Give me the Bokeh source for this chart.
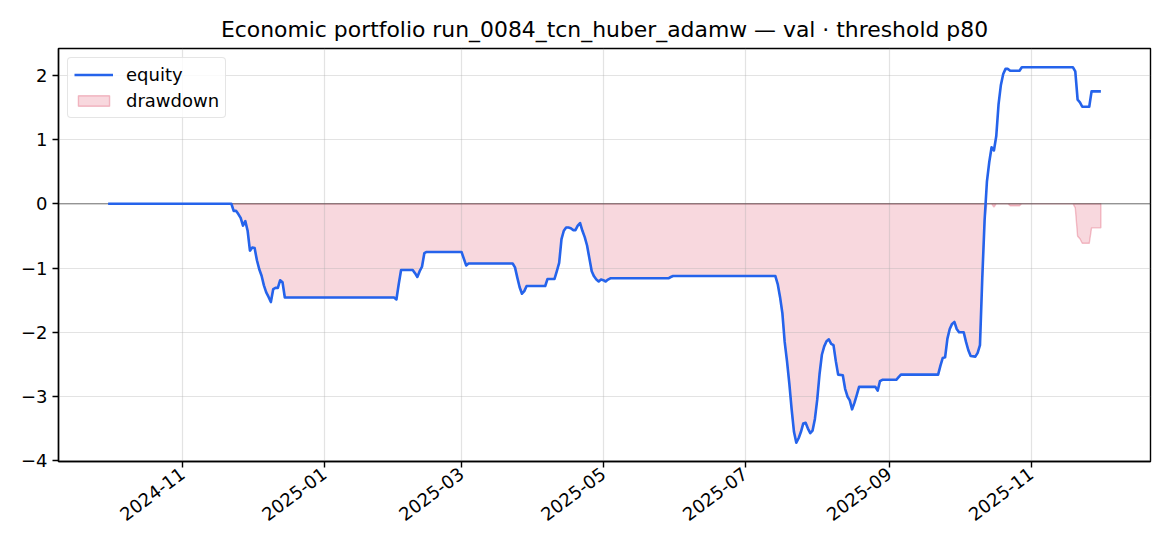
import math
import numpy as np
import pandas as pd
from bokeh.plotting import figure
from bokeh.models import (Range1d, FixedTicker, DatetimeTickFormatter, Span,
                          Legend, LegendItem)
from bokeh.embed import file_html
from bokeh.resources import INLINE

# ---------------- data ----------------
dates = [
    "2024-09-30", "2024-11-22", "2024-11-23", "2024-11-24", "2024-11-25",
    "2024-11-26", "2024-11-27", "2024-11-28", "2024-11-29", "2024-11-30",
    "2024-12-01", "2024-12-02", "2024-12-03", "2024-12-04", "2024-12-05",
    "2024-12-06", "2024-12-07", "2024-12-08", "2024-12-09", "2024-12-10",
    "2024-12-11", "2024-12-12", "2024-12-13", "2024-12-14", "2024-12-15",
    "2025-01-31", "2025-02-01", "2025-02-02", "2025-02-03", "2025-02-08",
    "2025-02-09", "2025-02-10", "2025-02-11", "2025-02-12", "2025-02-13",
    "2025-02-14", "2025-03-01", "2025-03-03", "2025-03-04", "2025-03-23",
    "2025-03-24", "2025-03-25", "2025-03-26", "2025-03-27", "2025-03-28",
    "2025-03-29", "2025-04-06", "2025-04-07", "2025-04-10", "2025-04-11",
    "2025-04-12", "2025-04-13", "2025-04-14", "2025-04-15", "2025-04-16",
    "2025-04-17", "2025-04-18", "2025-04-19", "2025-04-20", "2025-04-21",
    "2025-04-22", "2025-04-23", "2025-04-24", "2025-04-25", "2025-04-26",
    "2025-04-27", "2025-04-28", "2025-04-29", "2025-04-30", "2025-05-01",
    "2025-05-02", "2025-05-03", "2025-05-04", "2025-05-29", "2025-05-30",
    "2025-05-31", "2025-07-14", "2025-07-15", "2025-07-16", "2025-07-17",
    "2025-07-18", "2025-07-19", "2025-07-20", "2025-07-21", "2025-07-22",
    "2025-07-23", "2025-07-24", "2025-07-25", "2025-07-26", "2025-07-27",
    "2025-07-28", "2025-07-29", "2025-07-30", "2025-07-31", "2025-08-01",
    "2025-08-02", "2025-08-03", "2025-08-04", "2025-08-05", "2025-08-06",
    "2025-08-07", "2025-08-08", "2025-08-09", "2025-08-10", "2025-08-12",
    "2025-08-13", "2025-08-14", "2025-08-15", "2025-08-16", "2025-08-17",
    "2025-08-18", "2025-08-19", "2025-08-26", "2025-08-27", "2025-08-28",
    "2025-08-29", "2025-09-04", "2025-09-05", "2025-09-06", "2025-09-22",
    "2025-09-23", "2025-09-24", "2025-09-25", "2025-09-26", "2025-09-27",
    "2025-09-28", "2025-09-29", "2025-09-30", "2025-10-01", "2025-10-03",
    "2025-10-04", "2025-10-05", "2025-10-06", "2025-10-08", "2025-10-09",
    "2025-10-10", "2025-10-11", "2025-10-12", "2025-10-13", "2025-10-14",
    "2025-10-15", "2025-10-16", "2025-10-17", "2025-10-18", "2025-10-19",
    "2025-10-20", "2025-10-21", "2025-10-22", "2025-10-23", "2025-10-27",
    "2025-10-28", "2025-11-19", "2025-11-20", "2025-11-21", "2025-11-22",
    "2025-11-23", "2025-11-26", "2025-11-27", "2025-12-01",
]
equity = [
    0.00, 0.00, -0.11, -0.11, -0.16,
    -0.22, -0.34, -0.27, -0.42, -0.73,
    -0.68, -0.69, -0.88, -1.02, -1.12,
    -1.27, -1.38, -1.45, -1.53, -1.33,
    -1.31, -1.31, -1.19, -1.22, -1.46,
    -1.46, -1.49, -1.25, -1.03, -1.03,
    -1.08, -1.14, -1.05, -0.98, -0.77,
    -0.75, -0.75, -0.96, -0.93, -0.93,
    -0.99, -1.15, -1.30, -1.40, -1.36,
    -1.28, -1.28, -1.17, -1.17, -1.05,
    -0.92, -0.55, -0.42, -0.37, -0.37,
    -0.38, -0.41, -0.41, -0.34, -0.30,
    -0.42, -0.52, -0.65, -0.85, -1.05,
    -1.13, -1.18, -1.21, -1.18, -1.19,
    -1.21, -1.18, -1.16, -1.16, -1.14,
    -1.125, -1.125, -1.25, -1.45, -1.70,
    -2.15, -2.45, -2.80, -3.20, -3.55,
    -3.72, -3.65, -3.55, -3.42, -3.41,
    -3.50, -3.57, -3.53, -3.35, -3.05,
    -2.65, -2.35, -2.22, -2.14, -2.11,
    -2.18, -2.20, -2.45, -2.66, -2.67,
    -2.88, -3.00, -3.06, -3.20, -3.10,
    -2.98, -2.85, -2.85, -2.91, -2.76,
    -2.74, -2.74, -2.70, -2.66, -2.66,
    -2.52, -2.40, -2.39, -2.10, -1.95,
    -1.87, -1.84, -1.95, -2.00, -2.00,
    -2.15, -2.28, -2.37, -2.38, -2.32,
    -2.20, -1.15, -0.25, 0.35, 0.65,
    0.88, 0.83, 1.05, 1.55, 1.85,
    2.02, 2.10, 2.10, 2.07, 2.07,
    2.125, 2.125, 2.06, 1.62, 1.58,
    1.51, 1.51, 1.75, 1.75,
]
x_tick_dates = ["2024-11-01", "2025-01-01", "2025-03-01", "2025-05-01",
                "2025-07-01", "2025-09-01", "2025-11-01"]
y_ticks = [-4, -3, -2, -1, 0, 1, 2]
y_tick_labels = ["\u22124", "\u22123", "\u22122", "\u22121", "0", "1", "2"]
title_text = "Economic portfolio run_0084_tcn_huber_adamw \u2014 val \u00b7 threshold p80"

# ---------------- derived ----------------
x = pd.to_datetime(dates)
eq = np.array(equity, dtype=float)
dd = eq - np.maximum.accumulate(eq)

xmin, xmax = x.min(), x.max()
xspan = xmax - xmin
ymin = min(eq.min(), dd.min())
ymax = max(eq.max(), 0.0)
yspan = ymax - ymin

FONT = "DejaVu Sans"
p = figure(width=1154, height=534, x_axis_type="datetime",
           output_backend="svg", toolbar_location=None,
           title=title_text,
           x_range=Range1d(xmin - 0.05 * xspan, xmax + 0.05 * xspan),
           y_range=Range1d(ymin - 0.05 * yspan, ymax + 0.05 * yspan),
           min_border_left=58, min_border_right=4,
           min_border_top=48, min_border_bottom=73)

p.background_fill_color = "white"
p.border_fill_color = "white"
p.outline_line_color = "black"
p.outline_line_width = 1.4
p.outline_line_alpha = 1.0

p.title.text_font = FONT
p.title.text_font_size = "21.9px"
p.title.text_font_style = "normal"
p.title.text_color = "black"
p.title.align = "center"
p.title.standoff = 13

# drawdown area
px = np.concatenate([x.values, x.values[::-1]])
py = np.concatenate([dd, np.zeros_like(dd)])
r_dd = p.patch(px, py, fill_color="#dc3c5a", fill_alpha=0.2,
               line_color="#dc3c5a", line_alpha=0.3, line_width=1.4,
               level="image")

zero = Span(location=0, dimension="width", line_color="black",
            line_alpha=0.35, line_width=1.3, level="underlay")
p.add_layout(zero)

r_eq = p.line(x, eq, line_color="#2563eb", line_width=2.6, line_join="round")

# axes
xticker = FixedTicker(ticks=[pd.Timestamp(t).timestamp() * 1000.0 for t in x_tick_dates])
yticker = FixedTicker(ticks=y_ticks)
fmt = "%Y-%m"
p.xaxis[0].ticker = xticker
p.xaxis[0].formatter = DatetimeTickFormatter(
    microseconds=fmt, milliseconds=fmt, seconds=fmt, minsec=fmt, minutes=fmt,
    hourmin=fmt, hours=fmt, days=fmt, months=fmt, years=fmt)
p.xaxis.major_label_orientation = 0.64
p.yaxis[0].ticker = yticker
p.yaxis.major_label_overrides = {t: lab for t, lab in zip(y_ticks, y_tick_labels)}

for ax in (p.xaxis[0], p.yaxis[0]):
    ax.axis_line_color = "black"
    ax.axis_line_width = 1.4
    ax.major_tick_line_color = "black"
    ax.major_tick_line_width = 1.4
    ax.major_tick_out = 6
    ax.major_tick_in = 0
    ax.minor_tick_out = 0
    ax.minor_tick_in = 0
    ax.major_label_text_font = FONT
    ax.major_label_text_font_size = "18px"
    ax.major_label_text_color = "black"
    ax.major_label_standoff = 5
p.xaxis[0].major_label_standoff = 4

p.xgrid[0].ticker = xticker
p.ygrid[0].ticker = yticker
for g in (p.xgrid[0], p.ygrid[0]):
    g.grid_line_color = "#b0b0b0"
    g.grid_line_alpha = 0.35
    g.grid_line_width = 1.2

legend = Legend(items=[LegendItem(label="equity", renderers=[r_eq]),
                       LegendItem(label="drawdown", renderers=[r_dd])],
                location="top_left")
legend.margin = 9
legend.padding = 6
legend.spacing = 5
legend.glyph_width = 39
legend.glyph_height = 13
legend.label_height = 21
legend.label_standoff = 13
legend.label_text_font = FONT
legend.label_text_font_size = "18px"
legend.label_text_color = "black"
legend.background_fill_color = "white"
legend.background_fill_alpha = 0.8
legend.border_line_color = "#cccccc"
legend.border_line_width = 1.2
if "border_radius" in Legend.properties():
    legend.border_radius = 4
p.add_layout(legend)

open("out.html", "w").write(file_html(p, INLINE))
